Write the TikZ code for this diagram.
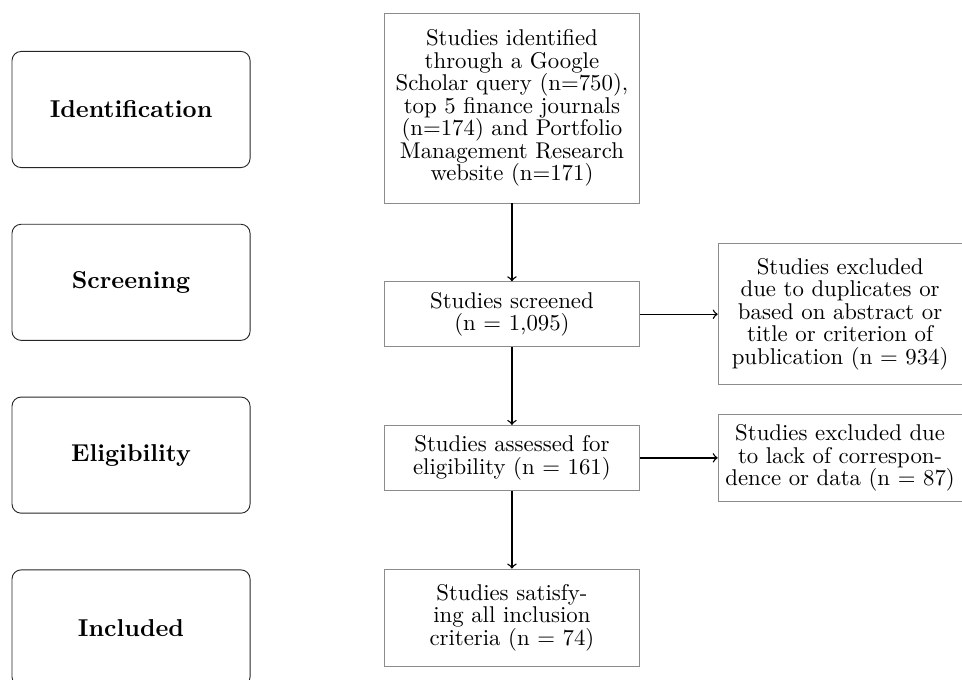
\documentclass[tikz,border=0pt]{standalone}
\usetikzlibrary{positioning}

\begin{document}
\begin{tikzpicture}[node distance=1.2cm,
    stage/.style={draw=black!85, rounded corners=4pt, minimum width=3.67cm, minimum height=1.79cm, font=\fontsize{10.7}{12}\selectfont\bfseries},
    study/.style={draw=black!45, text width=3.75cm, align=center, inner sep=0.09cm, font=\fontsize{10}{9.9}\selectfont},
    excl/.style={study, text width=3.58cm}]
  \useasboundingbox (0,0) rectangle (14.83,-10.48);
  % stages on the left
  \node[stage] (ident) at (2.02,-1.688) {Identification};
  \node[stage] (screen) [below=0.86cm of ident] {Screening};
  \node[stage] (elig) [below=0.86cm of screen] {Eligibility};
  \node[stage] (incl) [below=0.86cm of elig] {Included};
  % flow of studies
  \node[study, minimum height=2.93cm] (found) at (7.892,-1.665) {Studies identified\\ through a Google\\ Scholar query (n=750),\\ top 5 finance journals\\ (n=174) and Portfolio\\ Management Research\\ website (n=171)};
  \node[study, minimum height=1cm] (screened) [below=of found] {Studies screened\\ (n = 1,095)};
  \node[study, minimum height=1cm] (assessed) [below=of screened] {Studies assessed for\\ eligibility (n = 161)};
  \node[study, minimum height=1.5cm] (kept) [below=of assessed] {Studies satisfy-\\ ing all inclusion\\ criteria (n = 74)};
  \node[excl, minimum height=2.17cm] (dropA) [right=of screened] {Studies excluded\\ due to duplicates or\\ based on abstract or\\ title or criterion of\\ publication (n = 934)};
  \node[excl, minimum height=1.35cm] (dropB) [right=of assessed] {Studies excluded due\\ to lack of correspon-\\ dence or data (n = 87)};
  \path[->, semithick]
    (found) edge (screened)
    (screened) edge (assessed)
    (assessed) edge (kept)
    (screened) edge (dropA)
    (assessed) edge (dropB);
\end{tikzpicture}
\end{document}
